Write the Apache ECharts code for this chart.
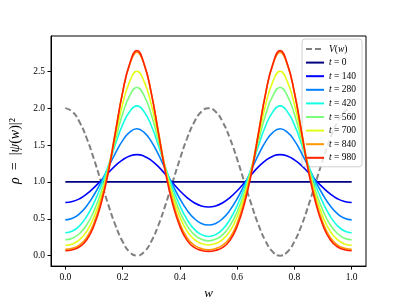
<!DOCTYPE html>
<html><head><meta charset="utf-8">
<script src="https://cdn.jsdelivr.net/npm/echarts@6/dist/echarts.min.js"></script>
<style>html,body{margin:0;padding:0;background:#fff}#c{width:407px;height:305px}</style>
</head><body><div id="c"></div>
<script>
const w = [0,0.025,0.05,0.075,0.1,0.125,0.15,0.175,0.2,0.225,0.25,0.275,0.3,0.325,0.35,0.375,0.4,0.425,0.45,0.475,0.5,
  0.525,0.55,0.575,0.6,0.625,0.65,0.675,0.7,0.725,0.75,0.775,0.8,0.825,0.85,0.875,0.9,0.925,0.95,0.975,1];
const V = [2,1.951,1.809,1.588,1.309,1,0.691,0.412,0.191,0.049,0,0.049,0.191,0.412,0.691,1,1.309,1.588,1.809,1.951,2,
  1.951,1.809,1.588,1.309,1,0.691,0.412,0.191,0.049,0,0.049,0.191,0.412,0.691,1,1.309,1.588,1.809,1.951,2];
const rho0 = [1,1,1,1,1,1,1,1,1,1,1,1,1,1,1,1,1,1,1,1,1,1,1,1,1,1,1,1,1,1,1,1,1,1,1,1,1,1,1,1,1];
const rho140 = [0.72,0.733,0.772,0.837,0.922,1.019,1.123,1.221,1.299,1.351,1.37,
  1.349,1.292,1.207,1.100,0.987,0.880,0.788,0.717,0.674,0.66,
  0.674,0.717,0.788,0.880,0.987,1.100,1.207,1.292,1.349,1.37,
  1.351,1.299,1.221,1.123,1.019,0.922,0.837,0.772,0.733,0.72];
const rho280 = [0.485,0.506,0.569,0.676,0.822,0.998,1.194,1.391,1.559,1.674,1.72,
  1.672,1.550,1.373,1.164,0.957,0.771,0.617,0.504,0.437,0.415,
  0.437,0.504,0.617,0.771,0.957,1.164,1.373,1.550,1.672,1.72,
  1.674,1.559,1.391,1.194,0.998,0.822,0.676,0.569,0.506,0.485];
const rho420 = [0.31,0.334,0.406,0.534,0.716,0.946,1.218,1.511,1.772,1.954,2.03,
  1.952,1.765,1.495,1.195,0.915,0.678,0.490,0.359,0.285,0.26,
  0.285,0.359,0.490,0.678,0.915,1.195,1.495,1.765,1.952,2.03,
  1.954,1.772,1.511,1.218,0.946,0.716,0.534,0.406,0.334,0.31];
const rho560 = [0.215,0.236,0.300,0.419,0.607,0.863,1.186,1.563,1.919,2.171,2.28,
  2.170,1.916,1.558,1.178,0.853,0.595,0.406,0.285,0.221,0.20,
  0.221,0.285,0.406,0.595,0.853,1.178,1.558,1.916,2.170,2.28,
  2.171,1.919,1.563,1.186,0.863,0.607,0.419,0.300,0.236,0.215];
const rho700 = [0.14,0.159,0.216,0.329,0.522,0.801,1.169,1.617,2.052,2.363,2.50,
  2.363,2.053,1.619,1.172,0.804,0.527,0.333,0.220,0.164,0.145,
  0.164,0.220,0.333,0.527,0.804,1.172,1.619,2.053,2.363,2.50,
  2.363,2.052,1.617,1.169,0.801,0.522,0.329,0.216,0.159,0.14];
const rho840 = [0.085,0.101,0.147,0.248,0.443,0.743,1.158,1.687,2.212,2.591,2.76,
  2.591,2.211,1.685,1.155,0.739,0.439,0.243,0.142,0.096,0.08,
  0.096,0.142,0.243,0.439,0.739,1.155,1.685,2.211,2.591,2.76,
  2.591,2.212,1.687,1.158,0.743,0.443,0.248,0.147,0.101,0.085];
const rho980 = [0.066,0.080,0.120,0.215,0.405,0.704,1.124,1.667,2.210,2.604,2.78,
  2.603,2.208,1.664,1.119,0.697,0.397,0.207,0.111,0.071,0.057,
  0.071,0.111,0.207,0.397,0.697,1.119,1.664,2.208,2.603,2.78,
  2.604,2.210,1.667,1.124,0.704,0.405,0.215,0.120,0.080,0.066];
const times = ['0','140','280','420','560','700','840','980'];
const rhos = [rho0,rho140,rho280,rho420,rho560,rho700,rho840,rho980];
const colors = ['#000080','#0000ff','#0080ff','#15ffe2','#7bff7b','#e2ff15','#ff9700','#ff2100'];
const xTicks = [0,0.2,0.4,0.6,0.8,1.0];
const yTicks = [0,0.5,1.0,1.5,2.0,2.5];

const FF = 'Liberation Serif';
const pairs = arr => w.map((x,i)=>[x,arr[i]]);
const series = [{
  name:'V(w)', type:'line', data:pairs(V), symbol:'none', smooth:true, z:1,
  lineStyle:{color:'#808080', width:2, type:[6,3]}, itemStyle:{color:'#808080'}
}];
times.forEach((t,k)=>{
  series.push({name:'t = '+t, type:'line', data:pairs(rhos[k]), symbol:'none', smooth:true, z:2+k,
    lineStyle:{color:colors[k], width:1.6}, itemStyle:{color:colors[k]}});
});
const chart = echarts.init(document.getElementById('c'), null, {renderer:'canvas'});
chart.setOption({
  animation:false,
  backgroundColor:'#fff',
  grid:{left:51, top:36, width:315, height:235, show:true, borderColor:'#000', borderWidth:1, backgroundColor:'transparent'},
  legend:{
    orient:'vertical', right:45, top:39, itemWidth:18, itemHeight:8, itemGap:3.6,
    padding:[5,6,4,3], borderColor:'#d0d0d0', borderWidth:1, borderRadius:3,
    backgroundColor:'rgba(255,255,255,0.8)',
    itemStyle:{color:'transparent', borderColor:'transparent', borderWidth:0, opacity:0},
    data: series.map(s=>s.name),
    formatter: n => n==='V(w)' ? '{i|V}({i|w})' : '{i|t} = ' + n.slice(4),
    textStyle:{fontFamily:FF, fontSize:9.5, color:'#000', rich:{i:{fontFamily:FF, fontStyle:'italic', fontSize:9.5, color:'#000'}}}
  },
  xAxis:{
    type:'value', min:-0.05, max:1.05,
    name:'w', nameLocation:'middle', nameGap:18,
    nameTextStyle:{fontFamily:FF, fontStyle:'italic', fontSize:13, color:'#000'},
    axisLine:{show:true, onZero:false, lineStyle:{color:'#000', width:1}},
    axisTick:{show:true, length:3.5, customValues:xTicks, lineStyle:{color:'#000'}},
    axisLabel:{customValues:xTicks, formatter:v=>v.toFixed(1), fontFamily:FF, fontSize:9.5, color:'#000', margin:6},
    splitLine:{show:false}
  },
  yAxis:{
    type:'value', min:-0.142, max:2.978,
    name:'{i|ρ}  =  |{i|ψ}({i|w})|²', nameLocation:'middle', nameGap:22, nameRotate:90,
    nameTextStyle:{fontFamily:FF, fontSize:14, color:'#000', rich:{i:{fontFamily:FF, fontStyle:'italic', fontSize:14, color:'#000'}}},
    axisLine:{show:true, onZero:false, lineStyle:{color:'#000', width:1}},
    axisTick:{show:true, length:3.5, customValues:yTicks, lineStyle:{color:'#000'}},
    axisLabel:{customValues:yTicks, formatter:v=>v.toFixed(1), fontFamily:FF, fontSize:9.5, color:'#000', margin:6},
    splitLine:{show:false}
  },
  series:series
});
</script></body></html>
